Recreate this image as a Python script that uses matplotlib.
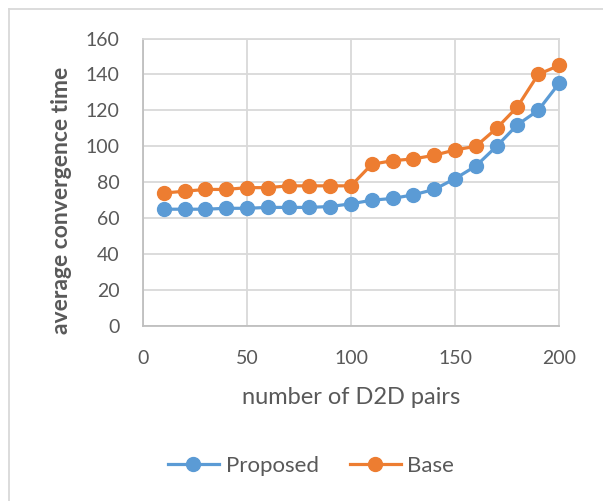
import matplotlib
matplotlib.use("Agg")
import matplotlib.pyplot as plt
from matplotlib.lines import Line2D

# D2D pair counts and measured average convergence times
pairs = [10, 20, 30, 40, 50, 60, 70, 80, 90, 100,
         110, 120, 130, 140, 150, 160, 170, 180, 190, 200]
proposed = [65, 65, 65, 65.5, 65.5, 66, 66, 66, 66.5, 68,
            70, 71, 73, 76, 82, 89, 100, 112, 120, 135]
base = [74, 75, 76, 76, 77, 77, 78, 78, 78, 78,
        90, 92, 93, 95, 98, 100, 110, 122, 140, 145]

x_ticks = [0, 50, 100, 150, 200]
y_ticks = [0, 20, 40, 60, 80, 100, 120, 140, 160]

BLUE = "#5B9BD5"
ORANGE = "#ED7D31"
TEXT = "#595959"
GRID = "#D9D9D9"

plt.rcParams["font.family"] = ["Lato", "DejaVu Sans"]

W, H = 603, 501
fig = plt.figure(figsize=(W / 100, H / 100), dpi=100)
ax = fig.add_axes([143 / W, 1 - 326 / H, (559 - 143) / W, (326 - 38.5) / H])

ax.plot(pairs, proposed, color=BLUE, lw=2.3, marker="o", ms=10,
        label="Proposed", zorder=3, clip_on=False)
ax.plot(pairs, base, color=ORANGE, lw=2.3, marker="o", ms=10,
        label="Base", zorder=4, clip_on=False)

ax.set_xlim(0, 200)
ax.set_ylim(0, 160)
ax.set_xticks(x_ticks)
ax.set_yticks(y_ticks)
ax.grid(True, color=GRID, lw=1.3)
ax.set_axisbelow(True)
ax.tick_params(length=0, labelsize=14, colors=TEXT)
ax.tick_params(axis="y", pad=17)
ax.tick_params(axis="x", pad=17)
for side in ("top", "right"):
    ax.spines[side].set_color(GRID)
    ax.spines[side].set_linewidth(1.3)
for side in ("left", "bottom"):
    ax.spines[side].set_color("#BFBFBF")
    ax.spines[side].set_linewidth(1.3)

fig.text(351 / W, 1 - 397 / H, "number of D2D pairs", ha="center", va="center",
         fontsize=17, color=TEXT)
fig.text(62 / W, 1 - 200 / H, "average convergence time", ha="center", va="center",
         rotation=90, fontsize=16.5, fontweight="bold", color=TEXT)

leg = fig.legend(loc="center", bbox_to_anchor=(311 / W, 1 - 466 / H), ncol=2,
                 frameon=False, fontsize=16, handlelength=2.3, columnspacing=1.4,
                 handletextpad=0.3)
for t in leg.get_texts():
    t.set_color(TEXT)

# outer chart-area border
fig.add_artist(Line2D([9 / W, 1], [1 - 9 / H, 1 - 9 / H], transform=fig.transFigure,
                      color=GRID, lw=1.3))
fig.add_artist(Line2D([9 / W, 9 / W], [0, 1 - 9 / H], transform=fig.transFigure,
                      color=GRID, lw=1.3))

fig.savefig("out.png", dpi=100, facecolor="white")
